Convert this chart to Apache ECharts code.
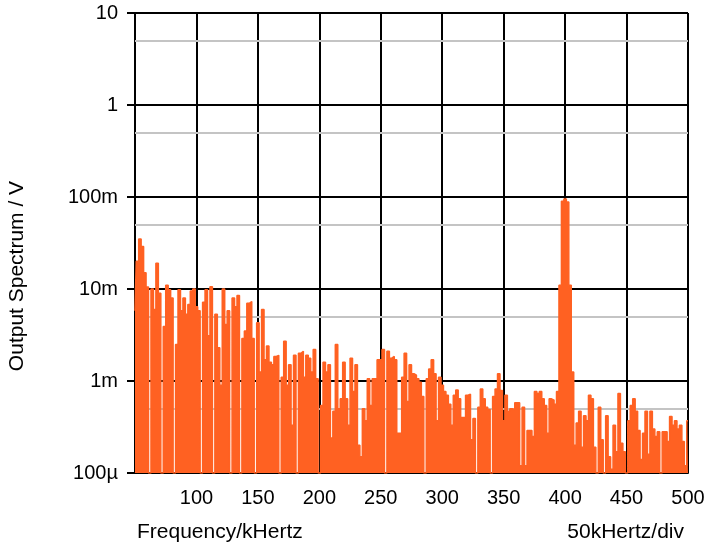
<!DOCTYPE html>
<html>
<head>
<meta charset="utf-8">
<script src="https://cdn.jsdelivr.net/npm/echarts@6/dist/echarts.min.js"></script>
<style>
  html, body { margin: 0; padding: 0; background: #ffffff; }
  #chart { width: 711px; height: 550px; }
</style>
</head>
<body>
<div id="chart"></div>
<script>
// Frequency grid of the spectrum (kHz): first bin and spacing
const freqStartKHz = 50;
const freqStepKHz = 2;

// Output spectrum amplitude per 2 kHz bin, in millivolts (50 .. 500 kHz)
const spectrumMilliVolts = [
  5.8, 20, 35, 29, 15, 10.5, 0.1, 10, 6, 19,          // 50-68
  9, 0.1, 3.9, 11, 9.8, 8, 0.1, 2.5, 9.8, 5.8,        // 70-88
  8, 5.3, 6.8, 9.5, 10, 6.4, 5.8, 0.1, 7.2, 9.8,      // 90-108
  3.1, 10.6, 0.1, 5.3, 2.3, 0.9, 10, 4.1, 5.8, 0.1,   // 110-128
  8, 6.4, 8.5, 0.1, 2.9, 3.5, 7, 7.3, 2.9, 0.1,       // 130-148
  4.3, 1.25, 6, 1.7, 2.4, 1.6, 1.5, 1.85, 1.9, 0.1,   // 150-168
  1.1, 2.7, 0.9, 1.5, 0.33, 1.9, 0.1, 2, 2.1, 1.1,    // 170-188
  1.9, 1.77, 1.25, 2.2, 1.06, 0.1, 0.54, 1.6, 1.25, 1.5, // 190-208
  0.24, 0.47, 2.5, 0.5, 0.64, 1.6, 0.64, 0.33, 1.77, 0.77, // 210-228
  1.5, 0.2, 0.15, 0.5, 0.37, 1.06, 0.54, 1.06, 1.06, 1.7, // 230-248
  1.7, 2.2, 0.1, 2.1, 1.77, 1.85, 1.7, 0.27, 0.27, 1.1, // 250-268
  2.0, 0.6, 1.5, 1.2, 1.16, 1.06, 0.97, 0.68, 0.1, 1.06, // 270-288
  1.35, 1.7, 1.2, 0.37, 1.1, 0.9, 0.77, 0.7, 0.56, 0.33, // 290-308
  0.7, 0.8, 0.64, 0.4, 0.4, 0.7, 0.72, 0.23, 0.39, 0.1, // 310-328
  0.52, 0.82, 0.64, 0.52, 0.49, 0.1, 0.68, 0.82, 1.2, 0.79, // 330-348
  0.37, 0.7, 0.47, 0.5, 0.49, 0.58, 0.58, 0.12, 0.52, 0.12, // 350-368
  0.29, 0.29, 0.25, 0.77, 0.73, 0.77, 0.64, 0.54, 0.27, 0.64, // 370-388
  0.62, 0.56, 0.77, 11, 90, 95, 88, 11, 1.25, 0.2,    // 390-408
  0.35, 0.47, 0.19, 0.42, 0.37, 0.7, 0.64, 0.19, 0.1, 0.52, // 410-428
  0.23, 0.1, 0.42, 0.15, 0.11, 0.33, 0.17, 0.73, 0.21, 0.17, // 430-448
  0.1, 0.37, 0.54, 0.64, 0.47, 0.29, 0.14, 0.27, 0.47, 0.16, // 450-468
  0.47, 0.3, 0.25, 0.28, 0.1, 0.28, 0.28, 0.22, 0.41, 0.33, // 470-488
  0.37, 0.3, 0.33, 0.22, 0.12, 0.37                   // 490-500
];

// Axis ticks
const xTickLabels = [100, 150, 200, 250, 300, 350, 400, 450, 500];
const yTickValues = [0.1, 1, 10, 100, 1000, 10000];       // mV
const yTickLabels = ['100µ', '1m', '10m', '100m', '1', '10'];
const yHalfDecadeLines = [0.5, 5, 50, 500, 5000];         // mV (grey lines)

const xTitle = 'Frequency/kHertz';
const xScaleNote = '50kHertz/div';
const yTitle = 'Output Spectrum / V';

const FONT = '"Liberation Sans", Arial, Helvetica, sans-serif';
const ORANGE = '#ff6122';

const seriesData = spectrumMilliVolts.map((v, i) => [freqStartKHz + i * freqStepKHz, v]);

const chart = echarts.init(document.getElementById('chart'), null, { renderer: 'canvas' });

chart.setOption({
  animation: false,
  backgroundColor: '#ffffff',
  grid: { left: 135, right: 23, top: 13, bottom: 77, containLabel: false },
  xAxis: [{
    type: 'value',
    min: 50, max: 500, interval: 50,
    axisLine: { show: true, onZero: false, lineStyle: { color: '#000', width: 2 } },
    axisTick: { show: false },
    axisLabel: {
      margin: 15,
      color: '#000', fontSize: 20, fontFamily: FONT,
      formatter: v => (xTickLabels.indexOf(v) >= 0 ? String(v) : '')
    },
    splitLine: { show: true, lineStyle: { color: '#000', width: 2 } }
  }],
  yAxis: [{
    type: 'log', logBase: 10,
    min: 0.1, max: 10000,
    splitNumber: 5,
    axisLine: { show: true, lineStyle: { color: '#000', width: 2 } },
    axisTick: { show: true, inside: false, length: 8, lineStyle: { color: '#000', width: 2 } },
    axisLabel: {
      margin: 17,
      color: '#000', fontSize: 20, fontFamily: FONT,
      formatter: v => {
        for (let i = 0; i < yTickValues.length; i++) {
          if (Math.abs(Math.log10(v) - Math.log10(yTickValues[i])) < 1e-6) return yTickLabels[i];
        }
        return '';
      }
    },
    splitLine: { show: true, lineStyle: { color: '#000', width: 2 } }
  }],
  series: [
    {
      type: 'line',
      data: [],
      z: 1,
      silent: true,
      markLine: {
        z: 1,
        silent: true,
        symbol: ['none', 'none'],
        label: { show: false },
        lineStyle: { color: '#c4c4c4', width: 2, type: 'solid' },
        data: yHalfDecadeLines.map(v => ({ yAxis: v }))
      }
    },
    {
      type: 'line',
      z: 8,
      step: 'middle',
      symbol: 'none',
      showSymbol: false,
      data: seriesData,
      lineStyle: { color: ORANGE, width: 1.5 },
      areaStyle: { color: ORANGE, opacity: 1, origin: 'start' }
    }
  ],
  graphic: [
    {
      type: 'text', left: 137, top: 522,
      style: { text: xTitle, fill: '#000', font: '21px ' + FONT }
    },
    {
      type: 'text', right: 27, top: 522,
      style: { text: xScaleNote, fill: '#000', font: '21px ' + FONT }
    },
    {
      type: 'text', x: 17, y: 276, rotation: Math.PI / 2,
      style: { text: yTitle, fill: '#000', font: '21px ' + FONT, align: 'center', verticalAlign: 'middle' }
    }
  ]
});
</script>
</body>
</html>
